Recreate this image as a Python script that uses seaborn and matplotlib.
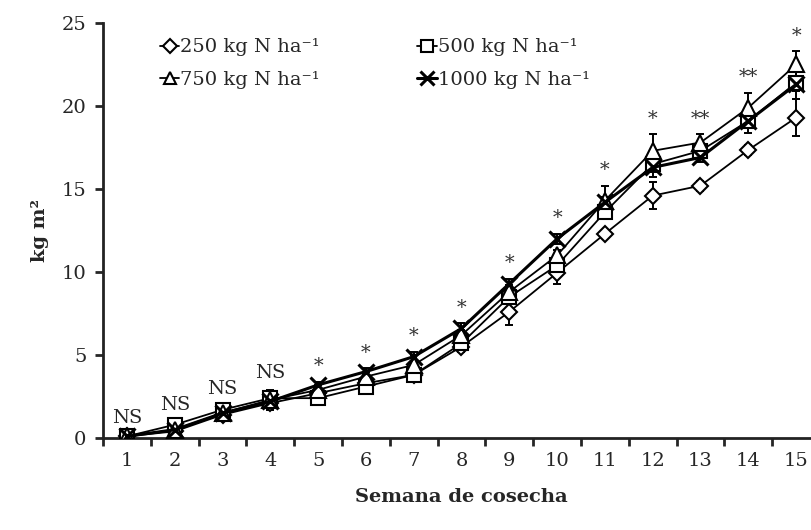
import matplotlib
matplotlib.use("Agg")
import matplotlib.pyplot as plt
import seaborn as sns
import numpy as np
import pandas as pd

weeks = list(range(1, 16))
n250 = [0.1, 0.4, 1.4, 2.1, 2.7, 3.3, 3.8, 5.5, 7.6, 9.95, 12.3, 14.6, 15.2, 17.35, 19.3]
n500 = [0.1, 0.8, 1.7, 2.4, 2.4, 3.1, 3.8, 5.7, 8.5, 10.4, 13.6, 16.5, 17.3, 19.1, 21.4]
n750 = [0.1, 0.5, 1.5, 2.3, 2.9, 3.7, 4.4, 6.2, 8.8, 11.0, 14.3, 17.3, 17.8, 19.9, 22.5]
n1000 = [0.1, 0.5, 1.5, 2.2, 3.2, 4.0, 4.9, 6.6, 9.3, 12.0, 14.2, 16.3, 16.9, 19.1, 21.3]
e250 = [0.05, 0.1, 0.15, 0.2, 0.2, 0.2, 0.3, 0.3, 0.8, 0.7, 0.2, 0.8, 0.3, 0.3, 1.1]
e500 = [0.05, 0.15, 0.2, 0.3, 0.2, 0.2, 0.2, 0.3, 0.3, 0.4, 0.3, 0.8, 0.3, 0.7, 1.0]
e750 = [0.05, 0.1, 0.2, 0.6, 0.3, 0.3, 0.6, 0.3, 0.4, 0.3, 0.9, 1.0, 0.5, 0.9, 0.8]
e1000 = [0.05, 0.1, 0.15, 0.3, 0.2, 0.2, 0.3, 0.3, 0.3, 0.3, 0.3, 0.3, 0.3, 0.3, 0.4]
sig = ["NS", "NS", "NS", "NS", "*", "*", "*", "*", "*", "*", "*", "*", "**", "**", "*"]
labels = ["250 kg N ha\u207b\u00b9", "500 kg N ha\u207b\u00b9",
          "750 kg N ha\u207b\u00b9", "1000 kg N ha\u207b\u00b9"]

sns.set_theme(style="white")
plt.rcParams["font.family"] = ["DejaVu Serif"]
plt.rcParams["mathtext.fontset"] = "dejavuserif"
plt.rcParams["mathtext.default"] = "regular"

fig = plt.figure(figsize=(8.12, 5.30), dpi=100)
ax = fig.add_axes([103 / 812, 92 / 530, (820 - 103) / 812, 415 / 530])

series = [n250, n500, n750, n1000]
errs = [e250, e500, e750, e1000]
markers = ["D", "s", "^", "x"]
msizes = [8.5, 10, 11, 12]
lws = [1.3, 1.3, 1.3, 2.2]
for vals, err, m, ms, lw, lab in zip(series, errs, markers, msizes, lws, labels):
    df = pd.DataFrame({"week": weeks, "val": vals})
    ax.errorbar(weeks, vals, yerr=err, fmt="none", ecolor="black", elinewidth=1.4,
                capsize=3, capthick=1.4, zorder=2)
    sns.lineplot(data=df, x="week", y="val", ax=ax, color="black", lw=lw,
                 marker=m, markersize=ms, markerfacecolor="white",
                 markeredgecolor="black", markeredgewidth=1.5 if m != "x" else 2.2,
                 label=lab, zorder=3)

# significance labels
tops = np.max(np.array(series) + np.array(errs), axis=0)
for w, t, s in zip(weeks, tops, sig):
    if s == "NS":
        ax.text(w, t + 0.5, s, ha="center", va="bottom", fontsize=14)
    else:
        ax.text(w, t + 0.4, s, ha="center", va="bottom", fontsize=14, color="#333333")

ax.set_xlim(0.5, 15.5)
ax.set_ylim(0, 25)
ax.set_yticks([0, 5, 10, 15, 20, 25])
ax.set_xticks(weeks)
ax.set_xticks(np.arange(0.5, 15.6, 1), minor=True)
ax.tick_params(axis="x", which="major", length=0, pad=10, labelsize=14)
ax.tick_params(axis="x", which="minor", length=6, width=2, direction="out", bottom=True)
ax.tick_params(axis="y", which="major", length=6, width=2, direction="out", left=True, labelsize=14, pad=6)
for sp in ["top", "right"]:
    ax.spines[sp].set_visible(False)
for sp in ["left", "bottom"]:
    ax.spines[sp].set_linewidth(2)
    ax.spines[sp].set_color("#222222")
ax.set_xlabel("Semana de cosecha", fontsize=14, fontweight="bold", labelpad=13)
ax.set_ylabel("kg m\u00b2", fontsize=14, fontweight="bold", labelpad=9)

h, l = ax.get_legend_handles_labels()
order = [0, 2, 1, 3]
leg = ax.legend([h[i] for i in order], [l[i] for i in order], ncol=2, frameon=False,
                loc="upper left", bbox_to_anchor=(0.055, 1.005), fontsize=14,
                handlelength=1.0, handletextpad=0.05, columnspacing=5.0, labelspacing=0.75,
                markerscale=0.8)

fig.savefig("out.png", dpi=100)
